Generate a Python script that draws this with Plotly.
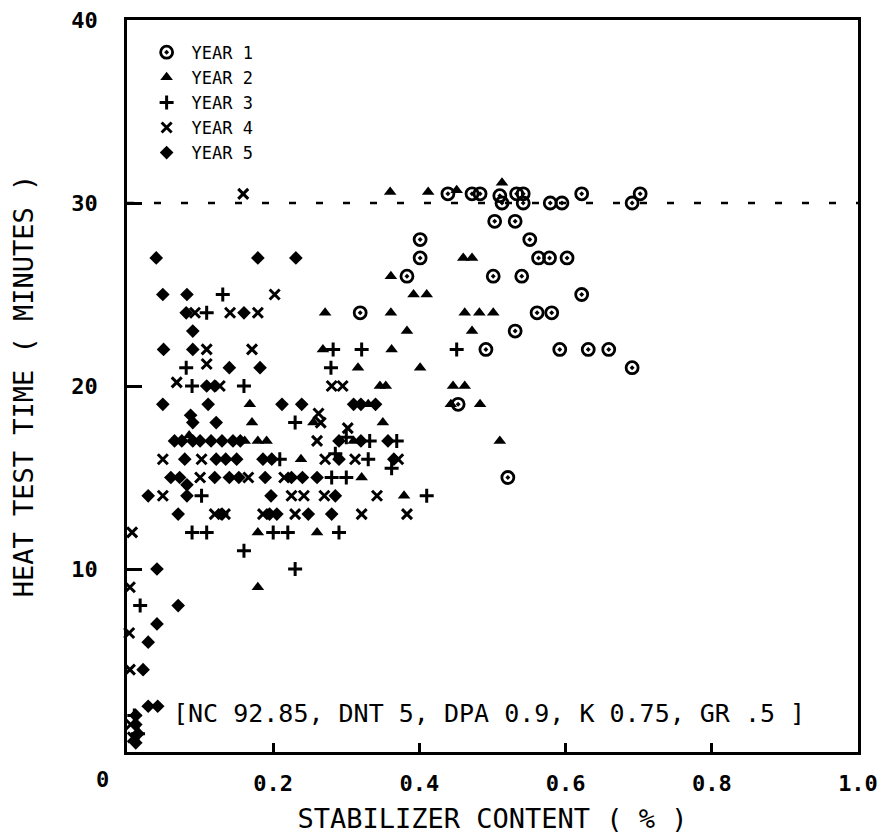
import plotly.graph_objects as go

# ---------------- data (stabilizer content %, heat test time minutes) ----------------
year1_x = [0.439, 0.472, 0.483, 0.510, 0.533, 0.542, 0.622, 0.702,
           0.513, 0.542, 0.579, 0.595, 0.691,
           0.503, 0.531, 0.401, 0.551,
           0.401, 0.563, 0.578, 0.602,
           0.383, 0.501, 0.540, 0.622,
           0.319, 0.561, 0.581, 0.531,
           0.491, 0.592, 0.631, 0.659, 0.691, 0.453, 0.521]
year1_y = [30.5, 30.5, 30.5, 30.4, 30.5, 30.5, 30.5, 30.5,
           30.0, 30.0, 30.0, 30.0, 30.0,
           29.0, 29.0, 28.0, 28.0,
           27.0, 27.0, 27.0, 27.0,
           26.0, 26.0, 26.0, 25.0,
           24.0, 24.0, 24.0, 23.0,
           22.0, 22.0, 22.0, 22.0, 21.0, 19.0, 15.0]

year2_x = [0.360, 0.412, 0.451, 0.513, 0.460, 0.472, 0.361, 0.392, 0.410,
           0.271, 0.361, 0.462, 0.482, 0.501, 0.383, 0.472, 0.268, 0.362,
           0.401, 0.316, 0.346, 0.354, 0.446, 0.462, 0.168, 0.330, 0.443, 0.483,
           0.171, 0.350, 0.255, 0.085, 0.161, 0.179, 0.191, 0.310, 0.510,
           0.238, 0.321, 0.379, 0.179, 0.260, 0.179]
year2_y = [30.6, 30.6, 30.7, 31.1, 27, 27, 26, 25, 25,
           24, 24, 24, 24, 24, 23, 23, 22, 22,
           21, 21, 20, 20, 20, 20, 19, 19, 19, 19,
           18, 18, 18, 17.3, 17, 17, 17, 17, 17,
           16, 15, 14, 12, 12, 9]

year3_x = [0.131, 0.109, 0.321, 0.282, 0.451, 0.081, 0.279, 0.089, 0.160,
           0.230, 0.332, 0.369, 0.300, 0.209, 0.330, 0.285, 0.362, 0.280, 0.300,
           0.102, 0.410, 0.089, 0.109, 0.200, 0.220, 0.290, 0.160, 0.230, 0.018,
           0.010, 0.015]
year3_y = [25, 24, 22, 22, 22, 21, 21, 20, 20,
           18, 17, 17, 17.2, 16, 16, 16.3, 15.5, 15, 15,
           14, 14, 12, 12, 12, 12, 12, 11, 10, 8,
           2, 1]

year4_x = [0.159, 0.202, 0.093, 0.141, 0.179, 0.109, 0.171, 0.109,
           0.068, 0.127, 0.280, 0.295, 0.262, 0.265, 0.302, 0.260,
           0.049, 0.102, 0.271, 0.312, 0.371, 0.100, 0.166, 0.215,
           0.049, 0.225, 0.242, 0.342, 0.270,
           0.120, 0.134, 0.186, 0.230, 0.321, 0.383,
           0.007, 0.004, 0.003, 0.004, 0.005, 0.008]
year4_y = [30.5, 25, 24, 24, 24, 22, 22, 21.2,
           20.2, 20, 20, 20, 18.5, 18, 17.7, 17,
           16, 16, 16, 16, 16, 15, 15, 15,
           14, 14, 14, 14, 14,
           13, 13, 13, 13, 13, 13,
           12, 9, 6.5, 4.5, 1.5, 0.8]

year5_x = [0.040, 0.179, 0.231, 0.049, 0.082, 0.081, 0.160, 0.090, 0.050, 0.090,
           0.140, 0.182, 0.109, 0.120,
           0.049, 0.111, 0.212, 0.239, 0.310, 0.320, 0.340,
           0.087, 0.090, 0.122,
           0.065, 0.075, 0.090, 0.100, 0.115, 0.130, 0.145, 0.155, 0.290, 0.320, 0.357,
           0.079, 0.122, 0.135, 0.150, 0.186, 0.198, 0.290, 0.365,
           0.060, 0.072, 0.120, 0.140, 0.153, 0.189, 0.225, 0.240, 0.260,
           0.029, 0.082, 0.082, 0.197, 0.285,
           0.070, 0.130, 0.195, 0.205, 0.248, 0.280,
           0.041, 0.070, 0.041, 0.029, 0.022, 0.029, 0.042,
           0.012, 0.012, 0.015, 0.012]
year5_y = [27, 27, 27, 25, 25, 24, 24, 23, 22, 22,
           21, 21, 20, 20,
           19, 19, 19, 19, 19, 19, 19,
           18.4, 18, 18,
           17, 17, 17, 17, 17, 17, 17, 17, 17, 17, 17,
           16, 16, 16, 16, 16, 16, 16, 16,
           15, 15, 15, 15, 15, 15, 15, 15, 15,
           14, 14, 14.6, 14, 14,
           13, 13, 13, 13, 13, 13,
           10, 8, 7, 6, 4.5, 2.5, 2.5,
           2, 1.5, 1, 0.5]

series_names = ["YEAR 1", "YEAR 2", "YEAR 3", "YEAR 4", "YEAR 5"]
x_tick_vals = [0.2, 0.4, 0.6, 0.8, 1.0]
x_tick_text = ["0.2", "0.4", "0.6", "0.8", "1.0"]
y_tick_vals = [10, 20, 30, 40]
y_tick_text = ["10", "20", "30", "40"]
limit_minutes = 30
note_text = "[NC 92.85, DNT 5, DPA 0.9, K 0.75, GR .5 ]"

MONO = "DejaVu Sans Mono"
INK = "black"

fig = go.Figure()

styles = [
    dict(symbol="circle-open-dot", size=12, color=INK, line=dict(width=2.8, color=INK)),
    dict(symbol="triangle-up", size=11, color=INK, line=dict(width=0)),
    dict(symbol="cross-thin-open", size=10, color=INK, line=dict(width=3, color=INK)),
    dict(symbol="x-thin-open", size=10, color=INK, line=dict(width=3, color=INK)),
    dict(symbol="diamond", size=10.5, color=INK, line=dict(width=0)),
]
data = [(year1_x, year1_y), (year2_x, year2_y), (year3_x, year3_y),
        (year4_x, year4_y), (year5_x, year5_y)]

for (xs, ys), name, st in zip(data, series_names, styles):
    fig.add_trace(go.Scatter(x=xs, y=ys, mode="markers", name=name,
                             marker=st, cliponaxis=False))

# dashed 30-minute reference line
fig.add_shape(type="line", xref="paper", x0=0, x1=1, yref="y",
              y0=limit_minutes, y1=limit_minutes,
              line=dict(color=INK, width=2.5, dash="7px,20px"))

# composition note
fig.add_annotation(xref="paper", yref="paper", x=0.495, y=0.052, text=note_text,
                   showarrow=False, xanchor="center", yanchor="middle",
                   font=dict(family=MONO, size=25, color=INK))

# origin label, offset left as in the original
fig.add_annotation(xref="x", x=0, yref="paper", y=0, text="0", showarrow=False,
                   xanchor="center", yanchor="top", xshift=-25, yshift=-13,
                   font=dict(family=MONO, size=22, color=INK, weight="bold"))

axis_common = dict(showline=True, linecolor=INK, linewidth=2.5, mirror=True,
                   showgrid=False, zeroline=False, ticks="inside",
                   tickcolor=INK, tickwidth=2.5,
                   tickfont=dict(family=MONO, size=22, color=INK, weight="bold"))

fig.update_xaxes(range=[0, 1], tickvals=x_tick_vals, ticktext=x_tick_text,
                 ticklen=9, ticklabelstandoff=10,
                 title=dict(text="STABILIZER CONTENT ( % )", standoff=18,
                            font=dict(family=MONO, size=27, color=INK)),
                 **axis_common)
fig.update_yaxes(range=[0, 40], tickvals=y_tick_vals, ticktext=y_tick_text,
                 ticklen=15, ticklabelstandoff=22,
                 title=dict(text="HEAT TEST TIME ( MINUTES )", standoff=30,
                            font=dict(family=MONO, size=27, color=INK)),
                 **axis_common)

fig.update_layout(width=884, height=834,
                  margin=dict(l=127, r=26, t=20, b=82, autoexpand=False),
                  plot_bgcolor="white", paper_bgcolor="white",
                  showlegend=True,
                  legend=dict(x=0.020, y=0.980, xanchor="left", yanchor="top",
                              bgcolor="rgba(0,0,0,0)", borderwidth=0,
                              tracegroupgap=0, itemwidth=40,
                              font=dict(family=MONO, size=17, color=INK)))

fig.write_html("out.html")
